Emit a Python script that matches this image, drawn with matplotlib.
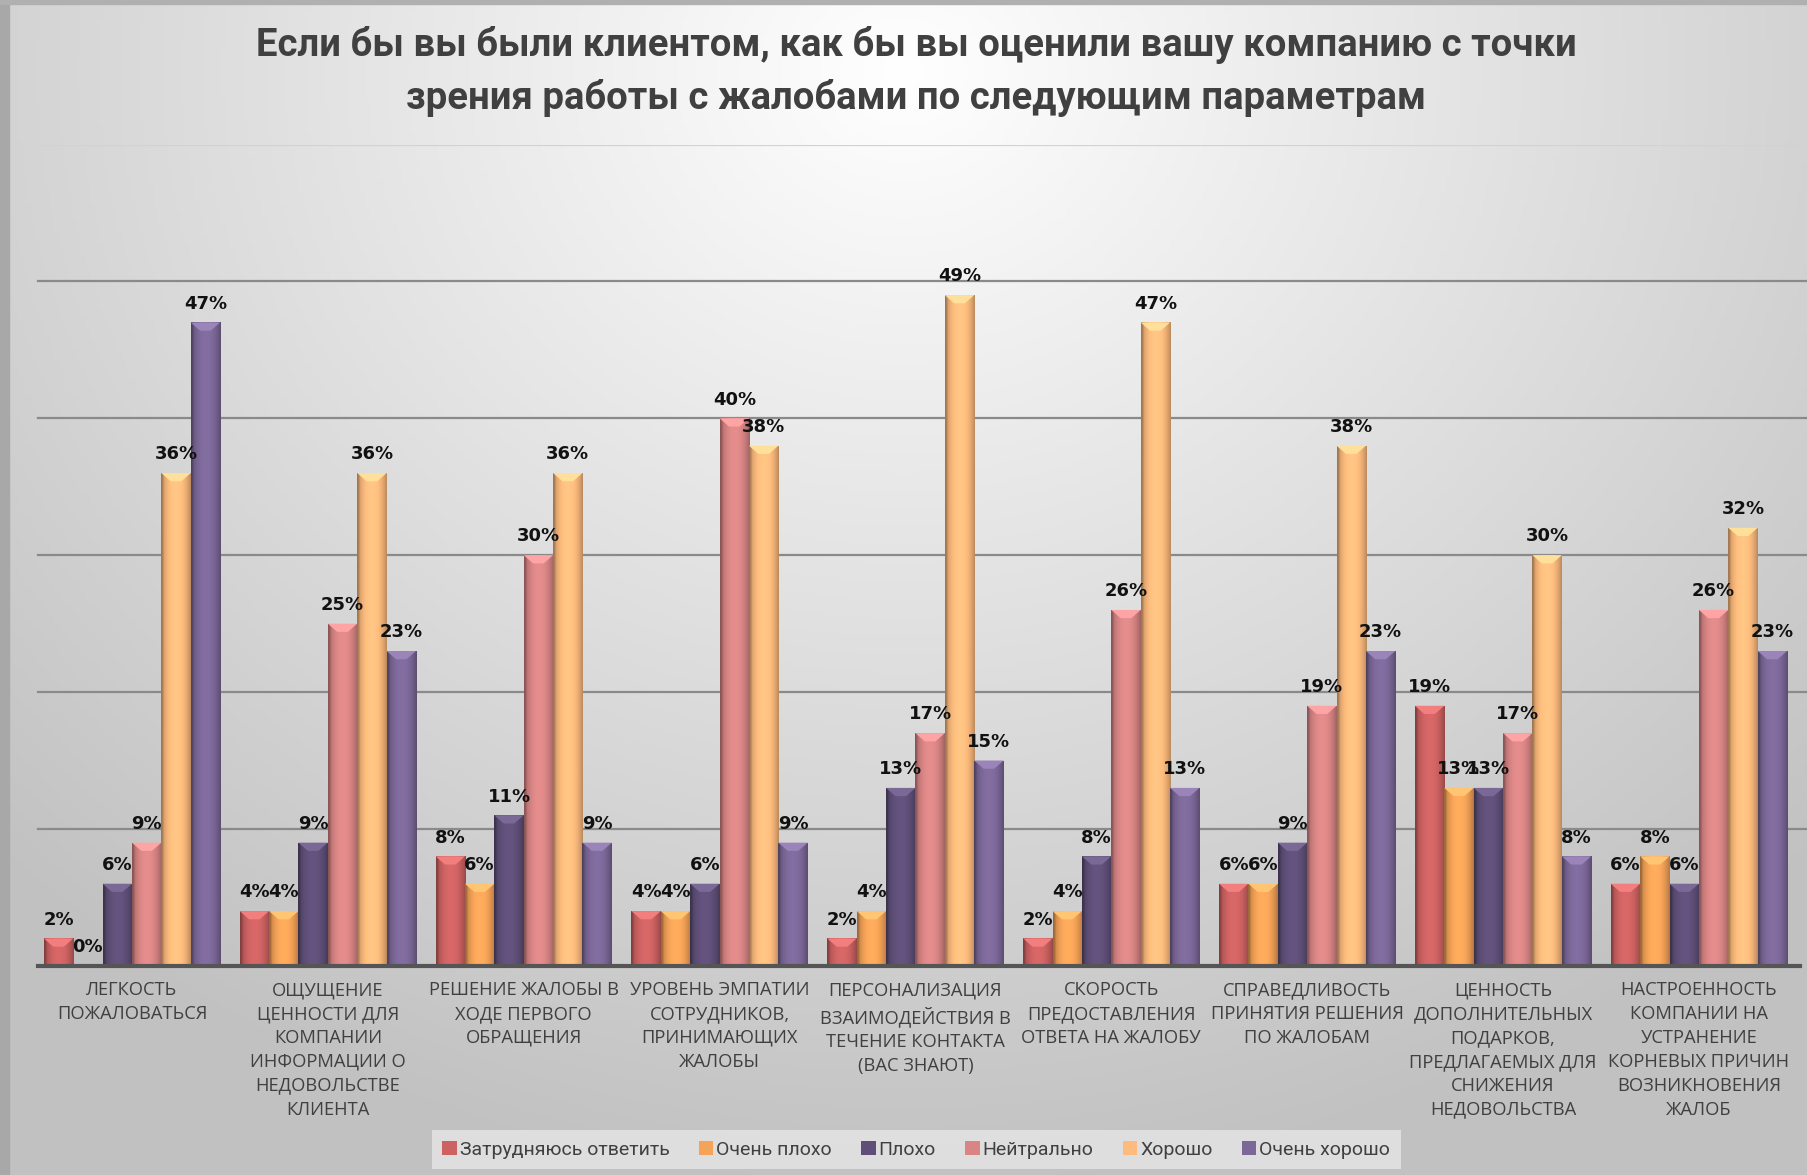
import numpy as np
import matplotlib.pyplot as plt
from matplotlib import font_manager
from matplotlib.colors import to_rgb

# --- data -------------------------------------------------------------
categories = [
    "ЛЕГКОСТЬ\nПОЖАЛОВАТЬСЯ",
    "ОЩУЩЕНИЕ\nЦЕННОСТИ ДЛЯ\nКОМПАНИИ\nИНФОРМАЦИИ О\nНЕДОВОЛЬСТВЕ\nКЛИЕНТА",
    "РЕШЕНИЕ ЖАЛОБЫ В\nХОДЕ ПЕРВОГО\nОБРАЩЕНИЯ",
    "УРОВЕНЬ ЭМПАТИИ\nСОТРУДНИКОВ,\nПРИНИМАЮЩИХ\nЖАЛОБЫ",
    "ПЕРСОНАЛИЗАЦИЯ\nВЗАИМОДЕЙСТВИЯ В\nТЕЧЕНИЕ КОНТАКТА\n(ВАС ЗНАЮТ)",
    "СКОРОСТЬ\nПРЕДОСТАВЛЕНИЯ\nОТВЕТА НА ЖАЛОБУ",
    "СПРАВЕДЛИВОСТЬ\nПРИНЯТИЯ РЕШЕНИЯ\nПО ЖАЛОБАМ",
    "ЦЕННОСТЬ\nДОПОЛНИТЕЛЬНЫХ\nПОДАРКОВ,\nПРЕДЛАГАЕМЫХ ДЛЯ\nСНИЖЕНИЯ\nНЕДОВОЛЬСТВА",
    "НАСТРОЕННОСТЬ\nКОМПАНИИ НА\nУСТРАНЕНИЕ\nКОРНЕВЫХ ПРИЧИН\nВОЗНИКНОВЕНИЯ\nЖАЛОБ",
]
series_names = ["Затрудняюсь ответить", "Очень плохо", "Плохо",
                "Нейтрально", "Хорошо", "Очень хорошо"]
hard_to_say = [2, 4, 8, 4, 2, 2, 6, 19, 6]
very_bad = [0, 4, 6, 4, 4, 4, 6, 13, 8]
bad = [6, 9, 11, 6, 13, 8, 9, 13, 6]
neutral = [9, 25, 30, 40, 17, 26, 19, 17, 26]
good = [36, 36, 36, 38, 49, 47, 38, 30, 32]
very_good = [47, 23, 9, 9, 15, 13, 23, 8, 23]
series = [hard_to_say, very_bad, bad, neutral, good, very_good]
colors = ["#cd6262", "#f5a358", "#5f4f78", "#d98585", "#fdbb7d", "#7c6898"]

title = ("Если бы вы были клиентом, как бы вы оценили вашу компанию с точки\n"
         "зрения работы с жалобами по следующим параметрам")

# --- fonts ------------------------------------------------------------
available = {f.name for f in font_manager.fontManager.ttflist}
narrow = "Liberation Sans Narrow" if "Liberation Sans Narrow" in available else "Roboto"
label_font = "Open Sans" if "Open Sans" in available else "Liberation Sans"
plt.rcParams["font.family"] = ["Liberation Sans", "DejaVu Sans"]

fig = plt.figure(figsize=(18.07, 11.75), dpi=100)

# background gradient
bg = fig.add_axes([0, 0, 1, 1], zorder=-10)
yy, xx = np.mgrid[0:1:300j, 0:1:400j]
r = np.sqrt(((xx - 0.5) / 0.7) ** 2 + ((yy - 0.06) / 0.95) ** 2)
shade = np.clip(1.0 - 0.24 * r, 0.76, 1.0)
bg.imshow(np.dstack([shade] * 3), extent=[0, 1, 0, 1], aspect="auto", origin="upper")
bg.axvspan(0, 0.005, color="#a8a8a8")
bg.axhspan(0.997, 1, color="#b0b0b0")
bg.set_xlim(0, 1)
bg.set_ylim(0, 1)
bg.axis("off")

ax = fig.add_axes([0.021, 0.178, 0.975, 0.699])
ax.patch.set_alpha(0)

n = len(categories)
x = np.arange(n)
w = 0.15

for v in [10, 20, 30, 40, 50]:
    ax.axhline(v, color="#8a8a8a", lw=1.6, zorder=0, xmax=1.01, clip_on=False)
ax.axhline(60, color="#d2d2d2", lw=1.6, zorder=0)


def shade_bar(patch, color):
    x0, y0 = patch.get_x(), patch.get_y()
    bw, bh = patch.get_width(), patch.get_height()
    if bh <= 0:
        return
    t = np.linspace(0, 1, 60)
    f = 1.06 - 0.32 * np.abs(2 * t - 1) ** 2.2
    f[t < 0.08] *= 0.85
    base = np.array(to_rgb(color))
    img = np.clip(base[None, None, :] * f[None, :, None], 0, 1)
    im = ax.imshow(img, extent=[x0, x0 + bw, y0, y0 + bh], aspect="auto",
                   zorder=3, interpolation="bilinear")
    im.set_clip_path(patch)
    # lighter bevel on the top
    cap = min(0.6, bh)
    light = np.clip(base * 1.1 + 0.07, 0, 1)
    ax.fill([x0, x0 + bw, x0 + bw * 0.68, x0 + bw * 0.32],
            [y0 + bh, y0 + bh, y0 + bh - cap, y0 + bh - cap],
            color=light, zorder=4, lw=0)


handles = []
for j, (vals, col, name) in enumerate(zip(series, colors, series_names)):
    bars = ax.bar(x + (j - 2.5) * w, vals, w, color=col, label=name,
                  zorder=2, edgecolor="none")
    handles.append(bars)
    for b, v in zip(bars, vals):
        shade_bar(b, col)
        ax.annotate(f"{v}%", (b.get_x() + b.get_width() / 2, v),
                    xytext=(0, 7), textcoords="offset points",
                    ha="center", va="bottom", fontsize=13, fontweight="bold",
                    family=["DejaVu Sans"], color="#111111", zorder=6)

ax.set_xlim(-0.48, n - 1 + 0.515)
ax.set_ylim(0, 60)
ax.set_yticks([])
ax.set_xticks(x)
ax.set_xticklabels(categories, fontsize=13.2, color="#404040", linespacing=1.42,
                   family=[label_font, "DejaVu Sans"])
ax.tick_params(axis="x", length=0, pad=11)
for s in ["left", "right", "top"]:
    ax.spines[s].set_visible(False)
ax.spines["bottom"].set_color("#555555")
ax.spines["bottom"].set_linewidth(3)
ax.spines["bottom"].set_zorder(7)

fig.text(0.507, 0.939, title, ha="center", va="center", fontsize=27.5,
         fontweight="bold", color="#404040", family=[narrow, "DejaVu Sans"],
         linespacing=1.5)

leg = fig.legend(handles=handles, loc="center", bbox_to_anchor=(0.507, 0.0215),
                 ncol=6, frameon=True, fancybox=False,
                 handlelength=0.75, handleheight=0.75, handletextpad=0.15,
                 columnspacing=1.5, borderpad=0.55,
                 prop={"family": [narrow, "DejaVu Sans"], "size": 14})
leg.get_frame().set_facecolor("#e6e6e6")
leg.get_frame().set_edgecolor("none")
for t in leg.get_texts():
    t.set_color("#404040")

fig.savefig("out.png", dpi=100)
